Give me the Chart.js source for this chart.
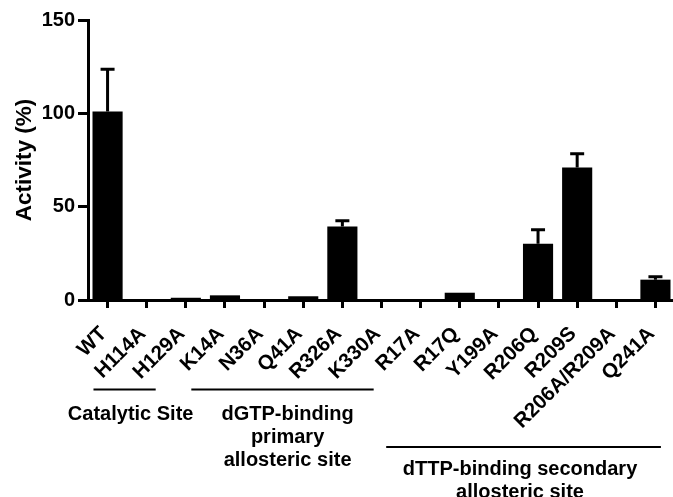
<!DOCTYPE html>
<html>
<head>
<meta charset="utf-8">
<script src="https://cdn.jsdelivr.net/npm/chart.js@4.4.0/dist/chart.umd.min.js"></script>
<style>
  html, body { margin: 0; padding: 0; background: #fff; overflow: hidden; }
  #wrap { position: relative; width: 687px; height: 497px; }
</style>
</head>
<body>
<div id="wrap"><canvas id="c"></canvas></div>
<script>
// ---- data ----
const categories = ["WT","H114A","H129A","K14A","N36A","Q41A","R326A","K330A",
                    "R17A","R17Q","Y199A","R206Q","R209S","R206A/R209A","Q241A"];
const activity   = [101, 0, 1.2, 2.5, 0, 2, 39.4, 0, 0, 3.9, 0, 30.2, 71, 0, 10.9];
const errorSD    = [22.6, 0, 0, 0, 0, 0, 3, 0, 0, 0, 0, 7.4, 7.4, 0, 1.6];
const yTicks     = [0, 50, 100, 150];
const yTitle     = "Activity (%)";
const groupNames = [
  ["Catalytic Site"],
  ["dGTP-binding", "primary", "allosteric site"],
  ["dTTP-binding secondary", "allosteric site"]
];

// ---- layout (category units / pixels) ----
const groupLayout = [
  { from: -0.36, to: 1.23, lineY: 389.5, textAt: 0.59,  textY: [419.5] },
  { from: 2.14,  to: 6.8,  lineY: 389.5, textAt: 4.6,   textY: [419.5, 442.5, 465.7] },
  { from: 7.12,  to: 14.14, lineY: 447,  textAt: 10.54, textY: [474.5, 497.5] }
];
const FONT = "'Liberation Sans', Arial, Helvetica, sans-serif";

const errorBarPlugin = {
  id: 'errorBars',
  afterDatasetsDraw(chart) {
    const ctx = chart.ctx;
    const meta = chart.getDatasetMeta(0);
    const y = chart.scales.y;
    ctx.save();
    ctx.strokeStyle = '#000';
    ctx.lineWidth = 3;
    meta.data.forEach((bar, i) => {
      const sd = errorSD[i];
      if (!sd) return;
      const top = y.getPixelForValue(activity[i] + sd);
      ctx.beginPath();
      ctx.moveTo(bar.x, bar.y);
      ctx.lineTo(bar.x, top);
      ctx.moveTo(bar.x - 7, top);
      ctx.lineTo(bar.x + 7, top);
      ctx.stroke();
    });
    ctx.restore();
  }
};

const groupPlugin = {
  id: 'groups',
  afterDraw(chart) {
    const ctx = chart.ctx;
    const x = chart.scales.x;
    const p0 = x.getPixelForValue(0);
    const step = x.getPixelForValue(1) - p0;
    const px = u => p0 + u * step;
    ctx.save();
    ctx.strokeStyle = '#000';
    ctx.fillStyle = '#000';
    ctx.lineWidth = 2;
    ctx.font = "bold 20px " + FONT;
    ctx.textAlign = 'center';
    ctx.textBaseline = 'alphabetic';
    groupLayout.forEach((g, gi) => {
      ctx.beginPath();
      ctx.moveTo(px(g.from), g.lineY);
      ctx.lineTo(px(g.to), g.lineY);
      ctx.stroke();
      groupNames[gi].forEach((t, li) => {
        ctx.fillText(t, px(g.textAt), g.textY[li]);
      });
    });
    ctx.restore();
  }
};

Chart.defaults.font.family = FONT;
Chart.defaults.font.weight = 'bold';
Chart.defaults.color = '#000';

new Chart(document.getElementById('c'), {
  type: 'bar',
  data: {
    labels: categories,
    datasets: [{
      data: activity,
      backgroundColor: '#000',
      borderWidth: 0,
      barPercentage: 0.77,
      categoryPercentage: 1.0
    }]
  },
  options: {
    responsive: true,
    maintainAspectRatio: false,
    animation: false,
    events: [],
    layout: { padding: { left: 0, right: 5, top: 20, bottom: 0 } },
    plugins: { legend: { display: false }, tooltip: { enabled: false } },
    scales: {
      x: {
        grid: { display: true, drawOnChartArea: false, drawTicks: true, tickLength: 8, tickWidth: 3, tickColor: '#000', offset: false },
        border: { display: true, color: '#000', width: 3 },
        ticks: { font: { size: 20.5, weight: 'bold' }, color: '#000', maxRotation: 45, minRotation: 45, padding: 14, labelOffset: -4, autoSkip: false },
        afterFit(scale) { scale.height = 197; }
      },
      y: {
        min: 0, max: 150,
        afterBuildTicks(scale) { scale.ticks = yTicks.map(v => ({ value: v })); },
        grid: { display: true, drawOnChartArea: false, drawTicks: true, tickLength: 10, tickWidth: 3, tickColor: '#000' },
        border: { display: true, color: '#000', width: 3 },
        ticks: { font: { size: 20, weight: 'bold' }, color: '#000', padding: 3 },
        title: { display: true, text: yTitle, font: { size: 22.5, weight: 'bold' }, color: '#000', padding: { top: 11, bottom: 0 } },
        afterFit(scale) { scale.width = 88; }
      }
    }
  },
  plugins: [errorBarPlugin, groupPlugin]
});
</script>
</body>
</html>
